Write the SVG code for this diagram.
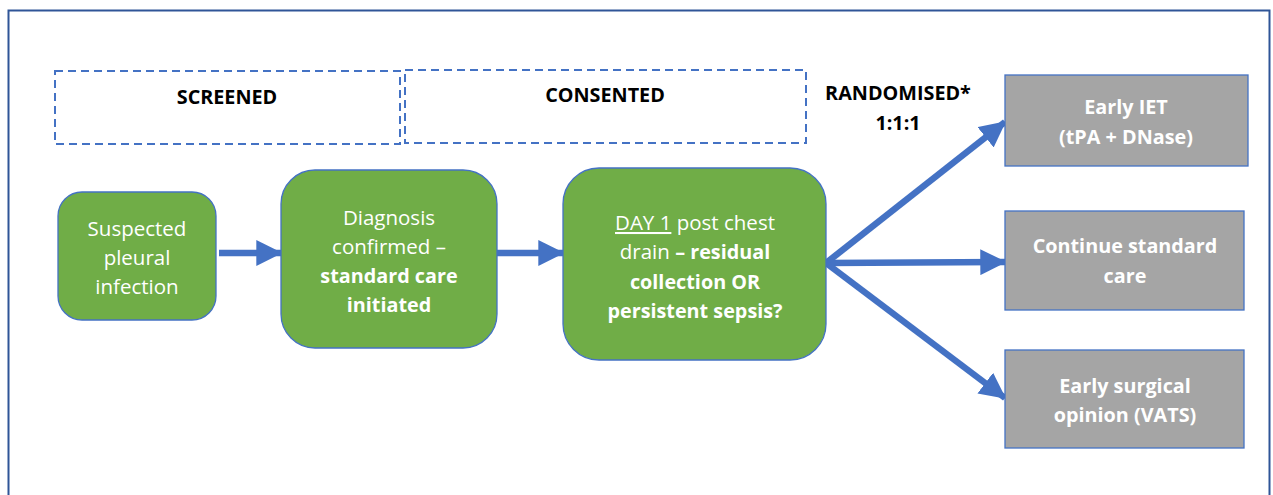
<svg xmlns="http://www.w3.org/2000/svg" width="1273" height="495" viewBox="0 0 1273 495">
  <style>
    .t { font-family: "Open Sans", "Liberation Sans", sans-serif; font-size: 20.5px; text-anchor: middle; }
    .w { fill: #ffffff; }
    .k { fill: #000000; font-weight: bold; font-size: 19.8px; }
    .b { font-weight: bold; font-size: 19.8px; }
    .stage { fill: #ffffff; stroke: #4472C4; stroke-width: 2; stroke-dasharray: 8 5; }
    .green { fill: #70AD47; stroke: #4472C4; stroke-width: 1.3; }
    .grey { fill: #A5A5A5; stroke: #4472C4; stroke-width: 1.3; }
    .conn { stroke: #4472C4; stroke-width: 6.5; fill: none; }
  </style>
  <defs>
    <marker id="head" viewBox="0 0 10 10" refX="9.5" refY="5" markerWidth="4" markerHeight="4" orient="auto" markerUnits="strokeWidth">
      <path d="M0,0 L10,5 L0,10 Z" fill="#4472C4"/>
    </marker>
  </defs>

  <rect width="1273" height="495" fill="#ffffff"/>
  <!-- outer frame -->
  <rect x="8.5" y="10.5" width="1261" height="500" fill="none" stroke="#2F5597" stroke-width="2"/>

  <!-- stage bands -->
  <g id="screened">
    <rect class="stage" x="55" y="71" width="345" height="73"/>
    <text class="t k" x="227" y="104">SCREENED</text>
  </g>
  <g id="consented">
    <rect class="stage" x="405" y="70" width="401" height="73"/>
    <text class="t k" x="605" y="102">CONSENTED</text>
  </g>
  <g id="randomised">
    <text class="t k" x="898" y="100">RANDOMISED*</text>
    <text class="t k" x="898" y="130">1:1:1</text>
  </g>

  <!-- connectors -->
  <g id="connectors">
    <line class="conn" x1="219" y1="253" x2="281" y2="253" marker-end="url(#head)"/>
    <line class="conn" x1="497" y1="253" x2="563" y2="253" marker-end="url(#head)"/>
    <line class="conn" x1="826" y1="263" x2="1005" y2="122" marker-end="url(#head)"/>
    <line class="conn" x1="826" y1="263" x2="1005" y2="262" marker-end="url(#head)"/>
    <line class="conn" x1="826" y1="263" x2="1005" y2="398" marker-end="url(#head)"/>
  </g>

  <!-- process steps -->
  <g id="suspected">
    <rect class="green" x="58" y="192" width="158" height="128" rx="24"/>
    <text class="t w" x="137" y="236">Suspected</text>
    <text class="t w" x="137" y="265">pleural</text>
    <text class="t w" x="137" y="294">infection</text>
  </g>
  <g id="diagnosis">
    <rect class="green" x="281" y="170" width="216" height="178" rx="34"/>
    <text class="t w" x="389" y="225">Diagnosis</text>
    <text class="t w" x="389" y="254">confirmed –</text>
    <text class="t w b" x="389" y="283">standard care</text>
    <text class="t w b" x="389" y="312">initiated</text>
  </g>
  <g id="day1">
    <rect class="green" x="563" y="168" width="263" height="192" rx="36"/>
    <text class="t w" x="695" y="230"><tspan text-decoration="underline">DAY 1</tspan> post chest</text>
    <text class="t w" x="695" y="259">drain <tspan class="b">– residual</tspan></text>
    <text class="t w b" x="695" y="289">collection OR</text>
    <text class="t w b" x="695" y="318">persistent sepsis?</text>
  </g>

  <!-- randomised arms -->
  <g id="iet">
    <rect class="grey" x="1005" y="75" width="243" height="91"/>
    <text class="t w b" x="1126" y="114">Early IET</text>
    <text class="t w b" x="1126" y="144">(tPA + DNase)</text>
  </g>
  <g id="standard">
    <rect class="grey" x="1005" y="211" width="239" height="99"/>
    <text class="t w b" x="1125" y="253">Continue standard</text>
    <text class="t w b" x="1125" y="283">care</text>
  </g>
  <g id="surgical">
    <rect class="grey" x="1005" y="350" width="239" height="98"/>
    <text class="t w b" x="1125" y="393">Early surgical</text>
    <text class="t w b" x="1125" y="422">opinion (VATS)</text>
  </g>
</svg>
